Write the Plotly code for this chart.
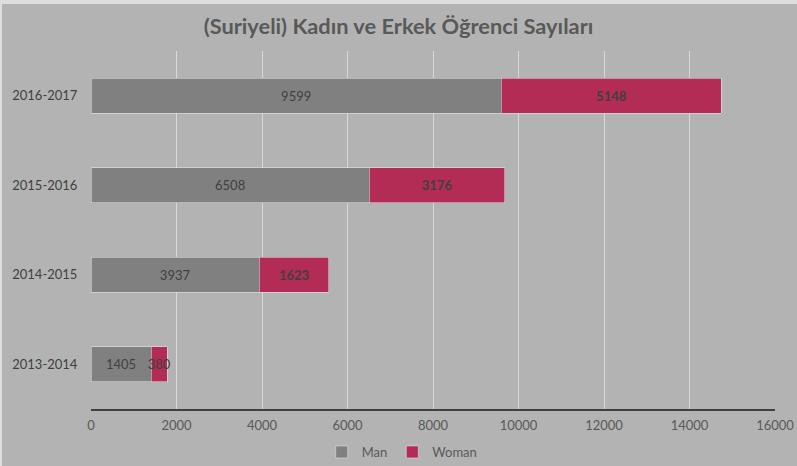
import plotly.graph_objects as go

years = ["2013-2014", "2014-2015", "2015-2016", "2016-2017"]
man = [1405, 3937, 6508, 9599]
woman = [380, 1623, 3176, 5148]
x_ticks = [0, 2000, 4000, 6000, 8000, 10000, 12000, 14000, 16000]

FONT = "Lato, 'Open Sans', sans-serif"

fig = go.Figure()
fig.add_trace(go.Bar(
    y=years, x=man, name="Man", orientation="h",
    marker=dict(color="#808080"),
    text=[str(v) for v in man], textposition="inside", insidetextanchor="middle",
    textangle=0,
    textfont=dict(color="#404040", size=13, family=FONT),
    hoverinfo="x+name",
))
fig.add_trace(go.Bar(
    y=years, x=woman, name="Woman", orientation="h",
    marker=dict(color="#b22c55"),
    text=["<b>%d</b>" % v if v > 1000 else str(v) for v in woman],
    textposition="inside", insidetextanchor="middle", textangle=0,
    textfont=dict(color="#404040", size=13, family=FONT),
    hoverinfo="x+name",
))

fig.update_layout(
    barmode="stack",
    bargap=0.61,
    width=797, height=466,
    paper_bgcolor="#b3b3b3",
    plot_bgcolor="#b3b3b3",
    margin=dict(l=91, r=22, t=51, b=57, autoexpand=False),
    title=dict(
        text="<b>(Suriyeli) Kadın ve Erkek Öğrenci Sayıları</b>",
        x=0.5, xanchor="center", y=1 - 26 / 466, yanchor="middle",
        font=dict(family=FONT, size=21.8, color="#595959"),
    ),
    font=dict(family=FONT, color="#595959", size=13),
    xaxis=dict(
        range=[0, 16000], tickvals=x_ticks, ticktext=[str(v) for v in x_ticks],
        showgrid=True, gridcolor="#d9d9d9", gridwidth=1,
        showline=True, linecolor="#404040", linewidth=2,
        zeroline=False, ticks="outside", ticklen=3, tickcolor="rgba(0,0,0,0)",
        tickfont=dict(size=13, color="#595959", family=FONT),
        automargin=False,
    ),
    yaxis=dict(
        categoryorder="array", categoryarray=years,
        showgrid=False, zeroline=False, showline=False,
        ticks="outside", ticklen=10, tickcolor="rgba(0,0,0,0)",
        tickfont=dict(size=13, color="#404040", family=FONT),
        automargin=False,
    ),
    legend=dict(
        orientation="h", x=0.455, xanchor="center",
        yref="container", y=1 - 452 / 466, yanchor="middle",
        font=dict(size=13, color="#595959", family=FONT),
        itemwidth=30, traceorder="normal",
    ),
    uniformtext=dict(mode="show", minsize=13),
    showlegend=True,
)

# light outer border of the chart frame (top and left edges)
fig.add_shape(type="rect", xref="paper", yref="paper",
              x0=-91/684, x1=1 + 22/684, y0=1 + 47/358, y1=1 + 51/358,
              fillcolor="#dedede", line=dict(width=0), layer="above")
fig.add_shape(type="rect", xref="paper", yref="paper",
              x0=-91/684, x1=-89/684, y0=-57/358, y1=1 + 51/358,
              fillcolor="#dedede", line=dict(width=0), layer="above")

fig.write_html("out.html", config={"displayModeBar": False},
               post_script="document.body.style.margin='0';")
